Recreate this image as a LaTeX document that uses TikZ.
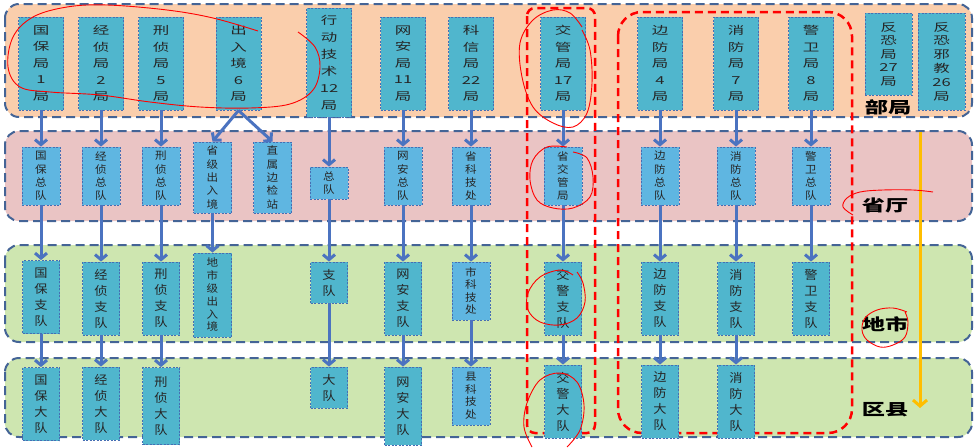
\documentclass[tikz,border=0pt]{standalone}
\usepackage{fontspec}
\setmainfont{Noto Sans CJK SC}
\newfontfamily\cjkwide[FakeStretch=1.5]{Noto Sans CJK SC}
\newfontfamily\cjknarrow[FakeStretch=1.1]{Noto Sans CJK SC}
\newfontfamily\cjklevel[FakeStretch=1.45]{Noto Sans CJK SC}
\usetikzlibrary{arrows.meta}
\definecolor{orangeband}{RGB}{250,206,172}
\definecolor{pinkband}{RGB}{234,196,196}
\definecolor{greenband}{RGB}{206,230,176}
\definecolor{bandline}{RGB}{68,100,150}
\definecolor{unitfill}{RGB}{80,182,205}
\definecolor{provfill}{RGB}{95,182,225}
\definecolor{unitline}{RGB}{70,110,180}
\definecolor{linkblue}{RGB}{75,115,192}
\definecolor{levelgold}{RGB}{255,190,0}
\begin{document}
\begin{tikzpicture}[x=1pt, y=-1pt,
    band/.style={draw=bandline, line width=2pt, dash pattern=on 9pt off 5pt, rounded corners=14pt},
    unit/.style={draw=unitline, fill=unitfill, dash pattern=on 2pt off 1.5pt, line width=0.9pt, inner sep=0pt, align=center, text=black!85},
    top/.style={unit, minimum width=45pt, minimum height=93pt, font=\cjkwide\fontsize{11}{16.5}\selectfont},
    prov/.style={unit, fill=provfill, minimum width=38pt, minimum height=58pt, font=\cjknarrow\fontsize{10.5}{13.3}\selectfont},
    city/.style={unit, minimum width=37pt, minimum height=73pt, font=\cjknarrow\fontsize{12}{16}\selectfont},
    level/.style={font=\cjklevel\bfseries\fontsize{16}{16}\selectfont},
    link/.style={draw=linkblue, line width=3pt, -{Straight Barb[length=5pt, width=12pt]}},
    redbox/.style={draw=red, line width=2.5pt, dash pattern=on 8pt off 5pt},
    ink/.style={red, line width=0.9pt}]
\useasboundingbox (0,0) rectangle (976,447);
\draw[band, fill=orangeband] (5,4) rectangle (972,117);
\draw[band, fill=pinkband] (5,131) rectangle (972,221);
\draw[band, fill=greenband] (5,245) rectangle (972,342);
\draw[band, fill=greenband] (5,358) rectangle (972,437);
\draw[redbox, rounded corners=8pt] (527,8) rectangle (595,433);
\draw[redbox, rounded corners=24pt] (618,12) rectangle (852,433);

\node[top] (gb1) at (41,63.5) {国\\保\\局\\1\\局};
\node[top] (jz2) at (101,63.5) {经\\侦\\局\\2\\局};
\node[top] (xz5) at (161,63.5) {刑\\侦\\局\\5\\局};
\node[top] (crj6) at (238.5,63.5) {出\\入\\境\\6\\局};
\node[top, minimum height=109pt, font=\cjkwide\fontsize{11}{17}\selectfont] (xd12) at (329,62.5) {行\\动\\技\\术\\12\\局};
\node[top] (wa11) at (403,63.5) {网\\安\\局\\11\\局};
\node[top] (kx22) at (471,63.5) {科\\信\\局\\22\\局};
\node[top] (jg17) at (563,63.5) {交\\管\\局\\17\\局};
\node[top] (bf4) at (660,63.5) {边\\防\\局\\4\\局};
\node[top] (xf7) at (736,63.5) {消\\防\\局\\7\\局};
\node[top] (jw8) at (811,63.5) {警\\卫\\局\\8\\局};
\node[top, minimum width=47pt, minimum height=82pt, font=\cjkwide\fontsize{11}{13.5}\selectfont] (fk27) at (888.5,54) {反\\恐\\局\\27\\局};
\node[top, minimum width=47pt, minimum height=97pt, font=\cjkwide\fontsize{11}{13.8}\selectfont] (fkxj26) at (941.5,61.5) {反\\恐\\邪\\教\\26\\局};
\node[level] (bj) at (888,107) {部局};

\node[prov] (gbzd) at (41,176) {国\\保\\总\\队};
\node[prov] (jzzd) at (101,176) {经\\侦\\总\\队};
\node[prov] (xzzd) at (161,176) {刑\\侦\\总\\队};
\node[prov, minimum height=71pt] (sjcrj) at (212.5,177.5) {省\\级\\出\\入\\境};
\node[prov, minimum height=71pt] (zsbjz) at (272.5,177.5) {直\\属\\边\\检\\站};
\node[prov, minimum height=32pt] (zd) at (329,183) {总\\队};
\node[prov] (wazd) at (403,176) {网\\安\\总\\队};
\node[prov] (skjc) at (471,176) {省\\科\\技\\处};
\node[prov] (sjgj) at (563,176) {省\\交\\管\\局};
\node[prov] (bfzd) at (660,176) {边\\防\\总\\队};
\node[prov] (xfzd) at (736,176) {消\\防\\总\\队};
\node[prov] (jwzd) at (811,176) {警\\卫\\总\\队};
\node[level] (st) at (885,205) {省厅};

\node[city] (gbzhd) at (41,297) {国\\保\\支\\队};
\node[city] (jzzhd) at (101,298.5) {经\\侦\\支\\队};
\node[city] (xzzhd) at (161,298.5) {刑\\侦\\支\\队};
\node[prov, fill=unitfill, minimum height=84pt, font=\cjknarrow\fontsize{10.5}{12.8}\selectfont] (dscrj) at (212.5,295) {地\\市\\级\\出\\入\\境};
\node[city, minimum height=41pt] (zhd) at (329,282.5) {支\\队};
\node[city] (wazhd) at (403,298.5) {网\\安\\支\\队};
\node[prov, font=\cjknarrow\fontsize{10.5}{12.5}\selectfont] (sk2) at (471,291) {市\\科\\技\\处};
\node[city] (jjzd) at (563,298.5) {交\\警\\支\\队};
\node[city] (bfzhd) at (660,298.5) {边\\防\\支\\队};
\node[city] (xfzhd) at (736,298.5) {消\\防\\支\\队};
\node[city] (jwzhd) at (811,298.5) {警\\卫\\支\\队};
\node[level] (ds) at (885,324) {地市};

\node[city] (gbdd) at (41,404) {国\\保\\大\\队};
\node[city] (jzdd) at (101,403.5) {经\\侦\\大\\队};
\node[city, minimum height=77pt] (xzdd) at (161,406) {刑\\侦\\大\\队};
\node[city, minimum height=41pt] (dd) at (329,387.5) {大\\队};
\node[city, minimum height=78pt] (wadd) at (403,406) {网\\安\\大\\队};
\node[prov, font=\cjknarrow\fontsize{10.5}{12.5}\selectfont] (xkjc) at (471,396) {县\\科\\技\\处};
\node[city] (jjdd) at (563,401.5) {交\\警\\大\\队};
\node[city] (bfdd) at (660,401.5) {边\\防\\大\\队};
\node[city] (xfdd) at (736,401.5) {消\\防\\大\\队};
\node[level] (xx) at (885,410) {区县};

\foreach \a/\b in {gb1/gbzd, jz2/jzzd, xz5/xzzd, crj6/sjcrj, crj6/zsbjz, xd12/zd, wa11/wazd, kx22/skjc, jg17/sjgj, bf4/bfzd, xf7/xfzd, jw8/jwzd,
    gbzd/gbzhd, jzzd/jzzhd, xzzd/xzzhd, sjcrj/dscrj, zd/zhd, wazd/wazhd, skjc/sk2, sjgj/jjzd, bfzd/bfzhd, xfzd/xfzhd, jwzd/jwzhd,
    gbzhd/gbdd, jzzhd/jzdd, xzzhd/xzdd, zhd/dd, wazhd/wadd, sk2/xkjc, jjzd/jjdd, bfzhd/bfdd, xfzhd/xfdd}
  \draw[link] (\a.south) -- (\b.north);

\coordinate (yTop) at (920,132);
\coordinate (yEnd) at (920,408);
\draw[levelgold, line width=3pt, -{Straight Barb[length=6pt, width=14pt]}] (yTop) -- (yEnd);

\draw[ink] plot[smooth, tension=0.6] coordinates {(258,31) (213,18) (167,10) (107,5) (67,7) (33,17) (13,37) (8,67) (20,87) (50,92) (100,95) (150,102) (200,107) (250,108) (290,104) (313,90) (320,67) (315,47) (298,32)};
\draw[ink] plot[smooth, tension=0.6] coordinates {(582,27) (570,13) (553,10) (533,20) (520,43) (522,77) (533,107) (553,123) (573,127) (587,113) (592,83) (590,50) (582,30)};
\draw[ink] plot[smooth, tension=0.6] coordinates {(567,147) (547,147) (533,160) (530,180) (537,200) (553,208) (573,208) (590,197) (593,177) (587,158) (573,152)};
\draw[ink] plot[smooth, tension=0.6] coordinates {(573,275) (560,270) (540,277) (528,293) (528,310) (540,322) (560,325) (577,318) (585,302) (583,283) (577,272)};
\draw[ink] plot[smooth, tension=0.6] coordinates {(567,447) (580,430) (584,405) (577,382) (560,373) (540,380) (527,403) (524,427) (532,447)};
\draw[ink] plot[smooth, tension=0.6] coordinates {(933,192) (913,190) (883,190) (860,192) (847,198) (843,207) (853,215)};
\draw[ink] plot[smooth, tension=0.6] coordinates {(907,312) (893,308) (877,310) (865,318) (862,330) (867,340) (880,347) (893,345) (905,337) (908,322) (905,312)};
\end{tikzpicture}
\end{document}
